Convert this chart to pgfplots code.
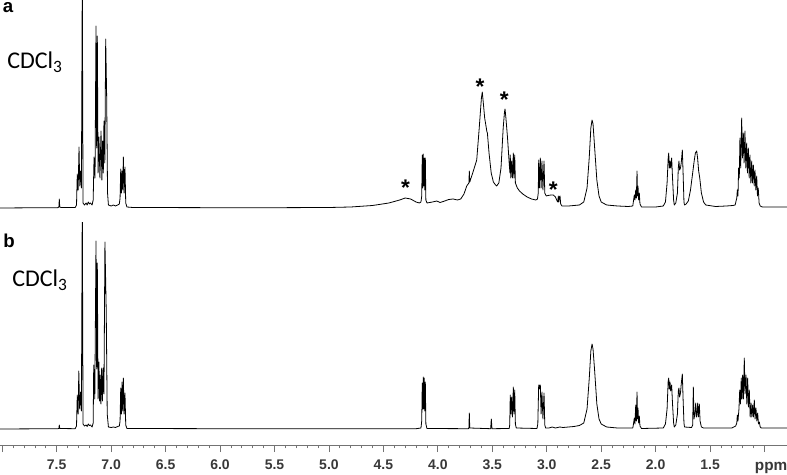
\documentclass[border=0pt]{standalone}
\usepackage{pgfplots}
\pgfplotsset{compat=1.18}
\usepackage{fontspec}
\setmainfont{Liberation Sans}
\newfontfamily\calibri{Carlito}
\begin{document}
\begin{tikzpicture}
\path[use as bounding box] (0,0) rectangle (590.25pt,355.5pt);
% ---------- panel a ----------
\begin{axis}[at={(0,194.25pt)}, anchor=south west, scale only axis,
  width=590.25pt, height=161.25pt,
  xmin=0.7938, xmax=8.0207, x dir=reverse, ymin=-7, ymax=208,
  hide axis, clip=true]
\addplot[black, line width=0.6pt, line join=round, mark=none] coordinates {
(8.02,0) (7.60,0.3) (7.49,0.3) (7.480,1) (7.476,9) (7.472,1) (7.46,0.5)
(7.33,0.5) (7.318,3) (7.311,34) (7.303,18) (7.295,61) (7.288,22) (7.280,37) (7.273,20)
(7.265,230) (7.258,5) (7.245,3) (7.23,5) (7.22,3) (7.21,6) (7.20,4) (7.19,5) (7.175,3)
(7.165,8) (7.157,51) (7.148,30) (7.139,182) (7.133,60) (7.127,172) (7.120,35) (7.112,71)
(7.103,30) (7.093,77) (7.085,28) (7.078,67) (7.072,35) (7.066,87) (7.058,45) (7.050,169)
(7.041,110) (7.033,15) (7.025,3) (7.00,2) (6.98,3) (6.96,2) (6.94,3) (6.925,4)
(6.918,10) (6.912,39) (6.906,15) (6.900,37) (6.894,18) (6.888,51) (6.881,15) (6.873,41)
(6.866,5) (6.855,1) (6.80,0.5) (6.0,0.3) (5.5,0.3) (5.0,0.5) (4.8,1) (4.6,2.5)
(4.45,5) (4.35,8) (4.30,10) (4.25,9) (4.20,6) (4.17,5) (4.155,6)
(4.148,12) (4.143,53) (4.138,20) (4.134,54) (4.129,22) (4.125,50) (4.120,18) (4.115,50)
(4.110,8) (4.10,5) (4.05,6) (4.01,7) (3.98,5.5) (3.95,6.5) (3.90,8.5) (3.86,9)
(3.82,8) (3.79,9) (3.76,14) (3.735,22) (3.715,25) (3.711,37) (3.707,26) (3.68,35)
(3.66,42) (3.643,48) (3.62,80) (3.60,110) (3.592,116) (3.585,108) (3.57,90) (3.555,80)
(3.551,77) (3.545,75) (3.53,55) (3.51,35) (3.49,26) (3.47,23) (3.46,22) (3.44,25)
(3.42,40) (3.40,80) (3.388,96) (3.383,99) (3.375,90) (3.36,70) (3.345,45) (3.338,35)
(3.335,53) (3.330,30) (3.322,47) (3.315,30) (3.307,55) (3.301,30) (3.294,53) (3.288,25)
(3.27,20) (3.25,17) (3.22,14) (3.18,11) (3.14,9) (3.10,8) (3.085,9) (3.078,15)
(3.074,48) (3.068,20) (3.059,50) (3.052,20) (3.044,47) (3.035,18) (3.025,47) (3.018,15)
(3.005,12) (2.99,12.5) (2.96,13) (2.94,13) (2.92,11) (2.905,7) (2.898,6) (2.894,12)
(2.889,6) (2.884,11) (2.878,12) (2.872,4) (2.86,2) (2.80,2) (2.75,2.5) (2.70,3)
(2.66,6) (2.63,20) (2.61,50) (2.595,80) (2.584,88) (2.575,84) (2.56,60) (2.54,28)
(2.52,12) (2.50,6) (2.45,3) (2.35,2) (2.25,1.5) (2.21,2) (2.205,6) (2.196,13)
(2.190,8) (2.183,18) (2.177,10) (2.171,37) (2.166,12) (2.162,22) (2.156,8) (2.150,15)
(2.144,4) (2.13,1) (2.00,1) (1.93,2) (1.91,6) (1.895,25) (1.885,50) (1.880,55)
(1.874,40) (1.868,47) (1.862,40) (1.853,50) (1.845,30) (1.835,8) (1.829,3) (1.815,5)
(1.80,15) (1.792,40) (1.786,47) (1.780,38) (1.772,40) (1.765,45) (1.755,58) (1.748,35)
(1.74,6) (1.735,3) (1.72,4) (1.70,7) (1.68,18) (1.66,35) (1.645,48) (1.635,55)
(1.623,57) (1.615,50) (1.605,37) (1.595,30) (1.58,15) (1.56,6) (1.54,3) (1.45,1.5)
(1.35,2) (1.29,2.5) (1.27,3) (1.255,10) (1.250,18) (1.244,12) (1.238,40) (1.232,30)
(1.226,70) (1.219,40) (1.210,90) (1.203,50) (1.195,75) (1.188,45) (1.180,77) (1.172,40)
(1.164,65) (1.157,35) (1.149,60) (1.141,30) (1.134,53) (1.126,25) (1.118,47) (1.111,25)
(1.103,43) (1.095,22) (1.088,38) (1.080,18) (1.072,32) (1.065,12) (1.058,20) (1.050,5)
(1.04,2) (1.02,1) (0.90,1) (0.79,1)
};
\node[font=\bfseries\fontsize{17}{17}\selectfont, anchor=base, inner sep=0pt] at (axis cs:4.297,12) {*};
\node[font=\bfseries\fontsize{17}{17}\selectfont, anchor=base, inner sep=0pt] at (axis cs:3.613,113.3) {*};
\node[font=\bfseries\fontsize{17}{17}\selectfont, anchor=base, inner sep=0pt] at (axis cs:3.390,100.7) {*};
\node[font=\bfseries\fontsize{17}{17}\selectfont, anchor=base, inner sep=0pt] at (axis cs:2.940,10) {*};
\end{axis}
% ---------- panel b ----------
\begin{axis}[at={(0,21.75pt)}, anchor=south west, scale only axis,
  width=590.25pt, height=166.5pt,
  xmin=0.7938, xmax=8.0207, x dir=reverse, ymin=-16, ymax=206,
  axis x line*=bottom, axis y line=none, clip=true,
  x axis line style={black!55, line width=0.6pt},
  every tick/.style={black!55, line width=0.6pt},
  tick align=outside,
  major tick length=5.25pt, minor tick length=2.5pt,
  xtick={1,1.5,2,2.5,3,3.5,4,4.5,5,5.5,6,6.5,7,7.5,8},
  xticklabels={,1.5,2.0,2.5,3.0,3.5,4.0,4.5,5.0,5.5,6.0,6.5,7.0,7.5,},
  minor x tick num=4,
  /pgf/number format/assume math mode=true,
  xticklabel style={font=\bfseries\fontsize{10.5}{12}\selectfont, text=black!78, yshift=-2.5pt}]
\addplot[black, line width=0.6pt, line join=round, mark=none] coordinates {
(8.02,0) (7.49,0.3) (7.480,0.5) (7.476,4) (7.472,0.5) (7.33,0.3) (7.318,3) (7.311,34)
(7.303,15) (7.297,58) (7.289,20) (7.281,37) (7.273,18) (7.265,230) (7.258,5) (7.245,3)
(7.23,4) (7.22,2.5) (7.21,5) (7.20,3.5) (7.19,4) (7.175,2) (7.165,6) (7.160,64)
(7.150,30) (7.139,188) (7.133,60) (7.127,166) (7.120,30) (7.112,67) (7.106,28) (7.100,54)
(7.094,25) (7.087,61) (7.080,28) (7.073,61) (7.066,35) (7.057,187) (7.045,117) (7.036,15)
(7.025,2) (7.00,1.5) (6.98,2) (6.96,1.5) (6.94,2.5) (6.925,3) (6.918,8) (6.912,41)
(6.906,15) (6.900,47) (6.894,18) (6.888,51) (6.881,15) (6.873,36) (6.866,4) (6.855,0.5)
(6.0,0.3) (4.20,0.3) (4.155,1) (4.148,8) (4.143,46) (4.138,20) (4.134,52) (4.129,20)
(4.125,51) (4.120,18) (4.115,47) (4.110,5) (4.10,0.5) (3.72,0.3) (3.715,1) (3.711,16)
(3.707,1) (3.515,0.3) (3.509,10) (3.503,0.3) (3.345,0.5) (3.340,4) (3.335,34) (3.329,15)
(3.322,32) (3.315,12) (3.307,42) (3.301,15) (3.294,39) (3.288,5) (3.28,1) (3.09,0.5)
(3.082,5) (3.074,44) (3.068,40) (3.064,44) (3.059,44) (3.052,15) (3.044,37) (3.035,10)
(3.025,36) (3.018,4) (3.01,1) (2.98,1) (2.95,2) (2.92,1) (2.88,2) (2.85,1.5)
(2.80,2) (2.75,2.5) (2.70,3.5) (2.66,6) (2.63,20) (2.61,50) (2.595,78) (2.584,85)
(2.575,80) (2.56,58) (2.54,25) (2.52,10) (2.50,5) (2.45,2) (2.35,1) (2.21,1)
(2.205,4) (2.196,11) (2.190,5) (2.183,24) (2.177,8) (2.171,37) (2.166,10) (2.162,21)
(2.156,6) (2.150,13) (2.144,3) (2.13,0.5) (1.93,1) (1.91,5) (1.895,20) (1.885,48)
(1.880,51) (1.874,40) (1.868,47) (1.862,38) (1.853,44) (1.845,25) (1.835,6) (1.829,2)
(1.815,4) (1.80,15) (1.792,38) (1.786,41) (1.780,32) (1.772,36) (1.765,45) (1.755,55)
(1.748,30) (1.74,6) (1.735,2) (1.67,1.5) (1.66,4) (1.654,42) (1.648,10) (1.640,15)
(1.632,26) (1.626,12) (1.620,15) (1.614,26) (1.608,12) (1.599,25) (1.592,8) (1.58,2)
(1.56,1) (1.30,1) (1.265,3) (1.255,6) (1.250,14) (1.244,8) (1.235,20) (1.228,39)
(1.221,25) (1.214,51) (1.208,30) (1.201,54) (1.194,30) (1.186,71) (1.179,35) (1.170,54)
(1.163,25) (1.155,51) (1.148,22) (1.140,39) (1.132,12) (1.124,26) (1.117,12) (1.109,24)
(1.102,12) (1.094,29) (1.087,10) (1.079,21) (1.071,8) (1.063,16) (1.056,5) (1.048,7)
(1.040,2) (1.03,1) (0.79,1)
};
\end{axis}
% ---------- labels ----------
\node[font=\bfseries\fontsize{14}{14}\selectfont, inner sep=0pt] at (6pt,349.5pt) {a};
\node[font=\bfseries\fontsize{14}{14}\selectfont, inner sep=0pt] at (6.75pt,174.75pt) {b};
\node[font=\calibri\fontsize{18}{18}\selectfont, anchor=base west, inner sep=0pt] at (5.3pt,304.3pt) {CDCl\raisebox{-3pt}{\fontsize{13}{13}\selectfont 3}};
\node[font=\calibri\fontsize{18}{18}\selectfont, anchor=base west, inner sep=0pt] at (9pt,140.5pt) {CDCl\raisebox{-3pt}{\fontsize{13}{13}\selectfont 3}};
\node[font=\bfseries\fontsize{11.5}{13}\selectfont, text=black!78, inner sep=0pt, anchor=base] at (578.3pt,2.7pt) {ppm};
\end{tikzpicture}
\end{document}
